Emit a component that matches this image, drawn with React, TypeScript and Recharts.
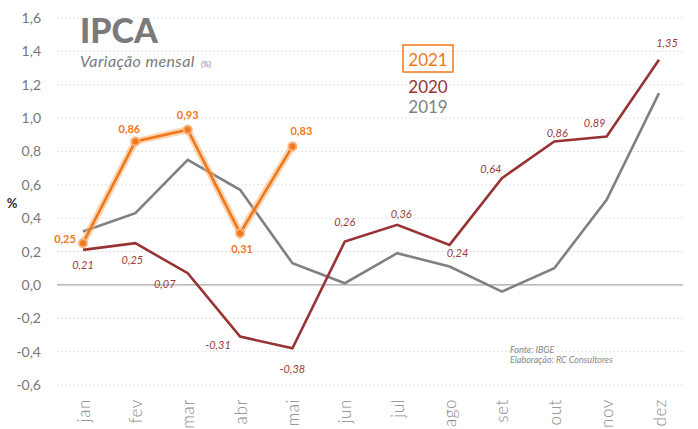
import React from 'react';
import { LineChart, Line, XAxis, YAxis, CartesianGrid, ReferenceLine, LabelList } from 'recharts';

const MONTHS = ['jan', 'fev', 'mar', 'abr', 'mai', 'jun', 'jul', 'ago', 'set', 'out', 'nov', 'dez'];
const IPCA_2019 = [0.32, 0.43, 0.75, 0.57, 0.13, 0.01, 0.19, 0.11, -0.04, 0.1, 0.51, 1.15];
const IPCA_2020 = [0.21, 0.25, 0.07, -0.31, -0.38, 0.26, 0.36, 0.24, 0.64, 0.86, 0.89, 1.35];
const IPCA_2021 = [0.25, 0.86, 0.93, 0.31, 0.83];
const Y_TICKS = [-0.6, -0.4, -0.2, 0, 0.2, 0.4, 0.6, 0.8, 1.0, 1.2, 1.4, 1.6];

// label nudges (dx, dy) relative to each point
const OFF_2020 = [[0, 15], [-3, 16], [-23, 10], [-22, 8], [0, 20], [0, -20], [4, -11], [8, 8], [-11, -10], [3, -9], [-12, -14], [8, -17]];
const OFF_2021 = [[-18, -5], [-6, -13], [0, -15], [2, 15], [9, -16]];

const C2019 = '#808080';
const C2020 = '#993233';
const C2021 = '#f07818';
const FONT = 'Lato, "Open Sans", sans-serif';

const data = MONTHS.map((m, i) => ({
  month: m,
  y2019: IPCA_2019[i],
  y2020: IPCA_2020[i],
  y2021: i < IPCA_2021.length ? IPCA_2021[i] : null,
}));

const fmt = (v: number) => v.toFixed(2).replace('.', ',');

const MonthTick = (props: any) => {
  const { x, y, payload } = props;
  return (
    <text
      transform={`translate(${x},${y + 6}) rotate(-90)`}
      textAnchor="end"
      dominantBaseline="central"
      fill="#888"
      fontSize={17}
      letterSpacing={0.6}
      fontFamily={FONT}
      fontWeight={300}
    >
      {payload.value}
    </text>
  );
};

const makeLabel = (offsets: number[][], color: string, italic: boolean) => (props: any) => {
  const { x, y, value, index } = props;
  if (value == null) return null;
  const [dx, dy] = offsets[index] || [0, -12];
  return (
    <text
      x={x + dx}
      y={y + dy}
      textAnchor="middle"
      dominantBaseline="central"
      fill={color}
      fontSize={11}
      fontFamily={FONT}
      fontStyle={italic ? 'italic' : 'normal'}
      fontWeight={italic ? 400 : 700}
    >
      {fmt(value)}
    </text>
  );
};

export default function App() {
  return (
    <div style={{ position: 'absolute', left: 0, top: 0, width: 698, height: 429, background: '#fff' }}>
      <LineChart width={698} height={429} data={data} margin={{ top: 18, right: 15, bottom: 0, left: 0 }}>
        <CartesianGrid vertical={false} stroke="#e2e2e2" strokeDasharray="2 2" />
        <XAxis
          dataKey="month"
          axisLine={false}
          tickLine={false}
          height={44}
          interval={0}
          padding={{ left: 26, right: 24 }}
          tick={<MonthTick />}
        />
        <YAxis
          domain={[-0.6, 1.6]}
          ticks={Y_TICKS}
          axisLine={false}
          tickLine={false}
          width={57}
          tickMargin={10}
          tickFormatter={(v: number) => (v === 0 ? '0,0' : v.toFixed(1).replace('.', ','))}
          tick={{ fill: '#777', fontSize: 14, fontFamily: FONT }}
        />
        <ReferenceLine y={0} stroke="#aaa" strokeWidth={1.2} />
        <Line dataKey="y2019" stroke={C2019} strokeWidth={2.6} dot={false} isAnimationActive={false} />
        <Line dataKey="y2020" stroke={C2020} strokeWidth={2.6} dot={false} isAnimationActive={false}>
          <LabelList dataKey="y2020" content={makeLabel(OFF_2020, '#9b3b3b', true)} />
        </Line>
        <Line
          dataKey="y2021"
          stroke="#f7b27a"
          strokeOpacity={0.55}
          strokeWidth={7}
          dot={false}
          activeDot={false}
          isAnimationActive={false}
          connectNulls={false}
        />
        <Line
          dataKey="y2021"
          stroke={C2021}
          strokeWidth={2.6}
          dot={{ r: 4, fill: C2021, stroke: '#f9b07a', strokeWidth: 2 }}
          isAnimationActive={false}
          connectNulls={false}
        >
          <LabelList dataKey="y2021" content={makeLabel(OFF_2021, C2021, false)} />
        </Line>
        <text x={12} y={203} textAnchor="middle" dominantBaseline="central" fill="#333" fontSize={13} fontWeight={700} fontFamily={FONT}>%</text>
        <text x={80} y={43} fill="#7a7a7a" fontSize={34} fontWeight={900} fontFamily={FONT}>IPCA</text>
        <text x={80} y={67} fill="#7a7a7a" fontSize={16} fontStyle="italic" letterSpacing={0.4} fontFamily={FONT}>
          Variação mensal <tspan fontSize={8} dx={2} letterSpacing={0}>(%)</tspan>
        </text>
        <rect x={403} y={45} width={50} height={27} fill="none" stroke={C2021} strokeWidth={1.5} />
        <text x={428} y={59} textAnchor="middle" dominantBaseline="central" fill={C2021} fontSize={17} fontFamily={FONT}>2021</text>
        <text x={428} y={86} textAnchor="middle" dominantBaseline="central" fill={C2020} fontSize={17} fontFamily={FONT}>2020</text>
        <text x={428} y={106} textAnchor="middle" dominantBaseline="central" fill={C2019} fontSize={17} fontFamily={FONT}>2019</text>
        <text x={510} y={353} fill="#888" fontSize={9} fontStyle="italic" fontFamily={FONT}>Fonte: IBGE</text>
        <text x={510} y={363} fill="#888" fontSize={9} fontStyle="italic" fontFamily={FONT}>Elaboração: RC Consultores</text>
      </LineChart>
    </div>
  );
}
